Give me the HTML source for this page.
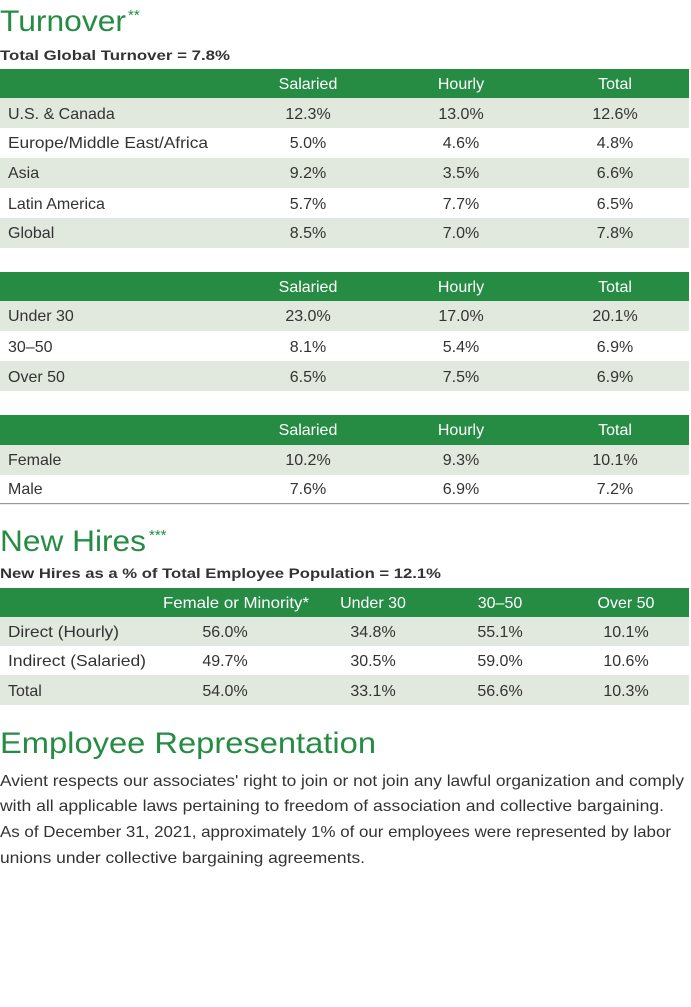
<!DOCTYPE html>
<html><head><meta charset="utf-8"><style>
html,body{margin:0;padding:0;background:#fff;width:691px;height:1007px;overflow:hidden}
svg{display:block}
text{font-family:"Liberation Sans",sans-serif}
.t{fill:#333;font-size:16px}
.h{fill:#fff;font-size:16px}
.g{fill:#268c44}
</style></head><body>
<svg width="691" height="1007" viewBox="0 0 691 1007">
<text x="0" y="31" class="g" font-size="30" textLength="126" lengthAdjust="spacingAndGlyphs">Turnover</text>
<text x="128" y="20" class="g" font-size="15">**</text>
<text x="0" y="60" fill="#333" font-size="14" font-weight="bold" textLength="230" lengthAdjust="spacingAndGlyphs">Total Global Turnover = 7.8%</text>

<rect x="0" y="69" width="689" height="29" fill="#268c44"/>
<rect x="0" y="98" width="689" height="30" fill="#e1e8dd"/>
<rect x="0" y="158" width="689" height="30" fill="#e1e8dd"/>
<rect x="0" y="218" width="689" height="30" fill="#e1e8dd"/>
<g text-anchor="middle">
<text x="308" y="89" class="h">Salaried</text><text x="461" y="89" class="h">Hourly</text><text x="615" y="89" class="h">Total</text>
<text x="308" y="119" class="t">12.3%</text><text x="461" y="119" class="t">13.0%</text><text x="615" y="119" class="t">12.6%</text>
<text x="308" y="148" class="t">5.0%</text><text x="461" y="148" class="t">4.6%</text><text x="615" y="148" class="t">4.8%</text>
<text x="308" y="178" class="t">9.2%</text><text x="461" y="178" class="t">3.5%</text><text x="615" y="178" class="t">6.6%</text>
<text x="308" y="209" class="t">5.7%</text><text x="461" y="209" class="t">7.7%</text><text x="615" y="209" class="t">6.5%</text>
<text x="308" y="238" class="t">8.5%</text><text x="461" y="238" class="t">7.0%</text><text x="615" y="238" class="t">7.8%</text>
</g>
<text x="8" y="119" class="t">U.S. &amp; Canada</text>
<text x="8" y="148" class="t" textLength="200" lengthAdjust="spacingAndGlyphs">Europe/Middle East/Africa</text>
<text x="8" y="178" class="t">Asia</text>
<text x="8" y="209" class="t">Latin America</text>
<text x="8" y="238" class="t">Global</text>

<rect x="0" y="272" width="689" height="29" fill="#268c44"/>
<rect x="0" y="301" width="689" height="30" fill="#e1e8dd"/>
<rect x="0" y="361" width="689" height="30" fill="#e1e8dd"/>
<g text-anchor="middle">
<text x="308" y="292" class="h">Salaried</text><text x="461" y="292" class="h">Hourly</text><text x="615" y="292" class="h">Total</text>
<text x="308" y="321" class="t">23.0%</text><text x="461" y="321" class="t">17.0%</text><text x="615" y="321" class="t">20.1%</text>
<text x="308" y="352" class="t">8.1%</text><text x="461" y="352" class="t">5.4%</text><text x="615" y="352" class="t">6.9%</text>
<text x="308" y="382" class="t">6.5%</text><text x="461" y="382" class="t">7.5%</text><text x="615" y="382" class="t">6.9%</text>
</g>
<text x="8" y="321" class="t">Under 30</text>
<text x="8" y="352" class="t">30–50</text>
<text x="8" y="382" class="t">Over 50</text>

<rect x="0" y="415" width="689" height="30" fill="#268c44"/>
<rect x="0" y="445" width="689" height="30" fill="#e1e8dd"/>
<rect x="0" y="503" width="689" height="1.2" fill="#999"/>
<g text-anchor="middle">
<text x="308" y="435" class="h">Salaried</text><text x="461" y="435" class="h">Hourly</text><text x="615" y="435" class="h">Total</text>
<text x="308" y="465" class="t">10.2%</text><text x="461" y="465" class="t">9.3%</text><text x="615" y="465" class="t">10.1%</text>
<text x="308" y="494" class="t">7.6%</text><text x="461" y="494" class="t">6.9%</text><text x="615" y="494" class="t">7.2%</text>
</g>
<text x="8" y="465" class="t">Female</text>
<text x="8" y="494" class="t">Male</text>

<text x="0" y="551" class="g" font-size="30" textLength="146" lengthAdjust="spacingAndGlyphs">New Hires</text>
<text x="149" y="540" class="g" font-size="15">***</text>
<text x="0" y="578" fill="#333" font-size="14" font-weight="bold" textLength="441" lengthAdjust="spacingAndGlyphs">New Hires as a % of Total Employee Population = 12.1%</text>

<rect x="0" y="588" width="689" height="29" fill="#268c44"/>
<rect x="0" y="617" width="689" height="29" fill="#e1e8dd"/>
<rect x="0" y="675" width="689" height="30" fill="#e1e8dd"/>
<g text-anchor="middle">
<text x="236" y="608" class="h" textLength="146" lengthAdjust="spacingAndGlyphs">Female or Minority*</text><text x="373" y="608" class="h">Under 30</text><text x="500" y="608" class="h">30–50</text><text x="626" y="608" class="h">Over 50</text>
<text x="225" y="637" class="t">56.0%</text><text x="373" y="637" class="t">34.8%</text><text x="500" y="637" class="t">55.1%</text><text x="626" y="637" class="t">10.1%</text>
<text x="225" y="666" class="t">49.7%</text><text x="373" y="666" class="t">30.5%</text><text x="500" y="666" class="t">59.0%</text><text x="626" y="666" class="t">10.6%</text>
<text x="225" y="696" class="t">54.0%</text><text x="373" y="696" class="t">33.1%</text><text x="500" y="696" class="t">56.6%</text><text x="626" y="696" class="t">10.3%</text>
</g>
<text x="8" y="637" class="t" textLength="111" lengthAdjust="spacingAndGlyphs">Direct (Hourly)</text>
<text x="8" y="666" class="t" textLength="138" lengthAdjust="spacingAndGlyphs">Indirect (Salaried)</text>
<text x="8" y="696" class="t">Total</text>

<text x="0" y="753" class="g" font-size="30" textLength="376" lengthAdjust="spacingAndGlyphs">Employee Representation</text>
<text x="0" y="786" class="t" font-size="16" textLength="684" lengthAdjust="spacingAndGlyphs">Avient respects our associates' right to join or not join any lawful organization and comply</text>
<text x="0" y="811" class="t" font-size="16" textLength="664" lengthAdjust="spacingAndGlyphs">with all applicable laws pertaining to freedom of association and collective bargaining.</text>
<text x="0" y="837" class="t" font-size="16" textLength="671" lengthAdjust="spacingAndGlyphs">As of December 31, 2021, approximately 1% of our employees were represented by labor</text>
<text x="0" y="863" class="t" font-size="16" textLength="365" lengthAdjust="spacingAndGlyphs">unions under collective bargaining agreements.</text>
</svg>
</body></html>
